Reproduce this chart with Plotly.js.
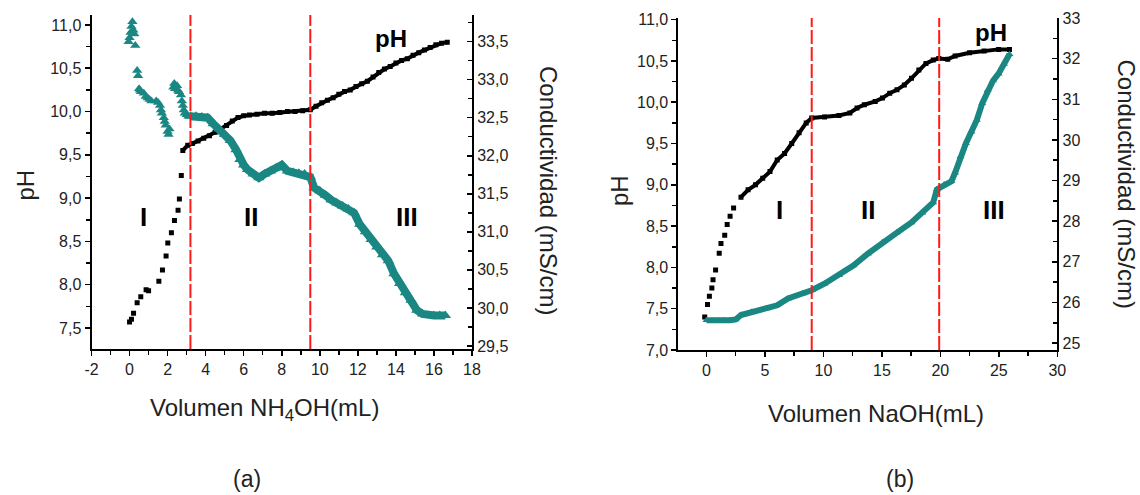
<!DOCTYPE html>
<html>
<head>
<meta charset="utf-8">
<script src="https://cdn.plot.ly/plotly-3.0.1.min.js"></script>
<style>
  html, body { margin: 0; padding: 0; background: #fff; }
  #chart { width: 1140px; height: 495px; }
</style>
</head>
<body>
<div id="chart"></div>
<script>
// ---------------- DATA ----------------
// Panel (a): titration with NH4OH
// pH, sparse region (zone I)
const phA_x1 = [0, 0.1, 0.21, 0.4, 0.59, 0.87, 1.0, 1.54, 1.73, 1.92, 2.01, 2.2, 2.36, 2.55, 2.62, 2.72];
const phA_y1 = [7.57, 7.6, 7.67, 7.79, 7.86, 7.94, 7.93, 8.04, 8.17, 8.33, 8.48, 8.6, 8.74, 8.86, 8.99, 9.26];
// pH, dense region
const phA_x2 = [2.8, 3.06, 3.3, 3.6, 3.9, 4.2, 4.5, 4.8, 5.1, 5.4, 5.7, 6.0, 6.3, 6.7, 7.1, 7.5, 7.9, 8.3, 8.7, 9.1, 9.5, 9.8, 10.1, 10.4, 10.7, 11.0, 11.3, 11.6, 11.9, 12.2, 12.5, 12.8, 13.1, 13.4, 13.7, 14.0, 14.3, 14.6, 14.9, 15.2, 15.5, 15.8, 16.1, 16.4, 16.7];
const phA_y2 = [9.55, 9.61, 9.63, 9.66, 9.69, 9.72, 9.76, 9.8, 9.84, 9.89, 9.93, 9.95, 9.96, 9.97, 9.98, 9.98, 9.99, 10.0, 10.0, 10.01, 10.02, 10.06, 10.1, 10.13, 10.16, 10.2, 10.23, 10.25, 10.29, 10.32, 10.35, 10.4, 10.45, 10.49, 10.52, 10.56, 10.59, 10.61, 10.65, 10.68, 10.71, 10.74, 10.77, 10.79, 10.8];
// Conductivity, scattered start
const condA_x1 = [-0.05, 0.0, 0.05, 0.1, 0.15, 0.2, 0.25, 0.3, 0.4, 0.45, 0.5, 0.55, 0.6, 0.75, 0.85, 0.95, 1.05, 1.15, 1.4, 1.5, 1.6, 1.65, 1.7, 1.8, 1.85, 1.9, 2.0, 2.05, 2.1, 2.3, 2.35, 2.4, 2.5, 2.55, 2.6, 2.7, 2.75, 2.8, 2.85, 2.9, 3.0, 3.1];
const condA_y1 = [33.5, 33.55, 33.62, 33.7, 33.76, 33.65, 33.6, 33.45, 33.12, 33.05, 32.88, 32.86, 32.84, 32.82, 32.78, 32.76, 32.74, 32.72, 32.72, 32.7, 32.66, 32.6, 32.56, 32.5, 32.45, 32.4, 32.32, 32.28, 32.35, 32.9, 32.95, 32.88, 32.92, 32.86, 32.84, 32.8, 32.72, 32.66, 32.6, 32.56, 32.54, 32.52];
// Conductivity, dense region
const condA_x2 = [3.2, 3.5, 3.8, 4.1, 4.4, 4.7, 5.0, 5.3, 5.6, 5.8, 6.0, 6.2, 6.5, 6.8, 7.1, 7.4, 7.7, 8.0, 8.3, 8.6, 8.9, 9.2, 9.5, 9.7, 10.0, 10.3, 10.6, 10.9, 11.2, 11.5, 11.8, 12.1, 12.4, 12.7, 13.0, 13.3, 13.6, 13.9, 14.2, 14.5, 14.8, 15.1, 15.4, 15.7, 16.0, 16.3, 16.6];
const condA_y2 = [32.52, 32.52, 32.51, 32.5, 32.42, 32.35, 32.28, 32.2, 32.08, 31.95, 31.88, 31.82, 31.76, 31.71, 31.76, 31.8, 31.84, 31.88, 31.8, 31.78, 31.77, 31.76, 31.72, 31.58, 31.54, 31.48, 31.42, 31.38, 31.34, 31.3, 31.25, 31.1, 31.0, 30.9, 30.8, 30.7, 30.62, 30.45, 30.32, 30.2, 30.1, 29.97, 29.92, 29.9, 29.9, 29.9, 29.9];
const zonesA = [3.2, 9.5];
const xTickValsA = [-2, 0, 2, 4, 6, 8, 10, 12, 14, 16, 18];
const xTickTextA = ['-2', '0', '2', '4', '6', '8', '10', '12', '14', '16', '18'];

// Panel (b): titration with NaOH
const phB_x1 = [-0.15, 0.09, 0.25, 0.46, 0.56, 0.78, 1.09, 1.24, 1.56, 1.77, 2.02, 2.32];
const phB_y1 = [7.4, 7.55, 7.65, 7.75, 7.85, 7.97, 8.17, 8.29, 8.39, 8.52, 8.62, 8.72];
const phB_x2 = [2.95, 3.56, 4.19, 4.81, 5.43, 6.05, 6.68, 7.29, 7.92, 8.53, 9.0, 10.09, 11.33, 12.26, 12.88, 13.5, 14.43, 15.05, 15.67, 16.29, 16.92, 17.53, 18.16, 18.77, 19.39, 19.86, 20.63, 21.26, 22.5, 23.74, 24.98, 25.91];
const phB_y2 = [8.85, 8.94, 9.0, 9.08, 9.16, 9.3, 9.38, 9.5, 9.63, 9.75, 9.81, 9.82, 9.84, 9.87, 9.93, 9.97, 10.01, 10.05, 10.11, 10.15, 10.21, 10.29, 10.39, 10.47, 10.51, 10.53, 10.52, 10.56, 10.6, 10.62, 10.64, 10.64];
const condB_x = [0, 0.5, 1.0, 1.5, 2.0, 2.5, 2.95, 3.88, 5.12, 6.05, 6.98, 8.22, 9.0, 10.09, 11.33, 12.56, 13.8, 15.05, 16.29, 17.53, 18.46, 19.39, 19.7, 20.33, 20.94, 21.26, 21.72, 22.19, 22.65, 23.12, 23.58, 24.04, 24.51, 24.98, 25.45, 25.91];
const condB_y = [25.56, 25.55, 25.55, 25.56, 25.56, 25.58, 25.69, 25.77, 25.85, 25.93, 26.1, 26.22, 26.3, 26.46, 26.67, 26.91, 27.2, 27.48, 27.72, 27.97, 28.21, 28.46, 28.78, 28.9, 28.98, 29.19, 29.59, 29.92, 30.2, 30.49, 30.9, 31.22, 31.46, 31.63, 31.87, 32.11];
const zonesB = [9.0, 19.9];

// Text
const zoneLabels = ['I', 'II', 'III'];
const xTitleA = 'Volumen NH<sub>4</sub>OH(mL)';
const xTitleB = 'Volumen NaOH(mL)';
const yTitleLeft = 'pH';
const yTitleRight = 'Conductividad (mS/cm)';
const curveLabel = 'pH';
const panelLabels = ['(a)', '(b)'];

// ---------------- STYLE ----------------
const W = 1140, H = 495;
const FONT = 'Arial, "Liberation Sans", Helvetica, sans-serif';
const TEAL = '#1a8782';
const px = v => v / W;
const py = v => 1 - v / H;

function axis(extra) {
  return Object.assign({
    showline: true, linecolor: '#000', linewidth: 2,
    ticks: 'outside', ticklen: 5, tickwidth: 1.5, tickcolor: '#000',
    showgrid: false, zeroline: false, fixedrange: true,
    tickfont: { family: FONT, size: 16, color: '#222' }
  }, extra);
}
function minor(dt, side) {
  return { dtick: dt, ticks: side || 'outside', ticklen: 4, tickwidth: 1.5, tickcolor: '#000', showgrid: false };
}

const traces = [
  { x: condA_x1, y: condA_y1, xaxis: 'x', yaxis: 'y2', mode: 'markers', type: 'scatter',
    marker: { symbol: 'triangle-up', size: 9, color: TEAL } },
  { x: condA_x2, y: condA_y2, xaxis: 'x', yaxis: 'y2', mode: 'lines+markers', type: 'scatter',
    line: { color: TEAL, width: 8 }, marker: { symbol: 'triangle-up', size: 10, color: TEAL } },
  { x: phA_x1, y: phA_y1, xaxis: 'x', yaxis: 'y', mode: 'markers', type: 'scatter',
    marker: { symbol: 'square', size: 5, color: '#000' } },
  { x: phA_x2, y: phA_y2, xaxis: 'x', yaxis: 'y', mode: 'lines+markers', type: 'scatter',
    line: { color: '#000', width: 4 }, marker: { symbol: 'square', size: 5, color: '#000' } },
  { x: condB_x, y: condB_y, xaxis: 'x2', yaxis: 'y4', mode: 'lines+markers', type: 'scatter',
    line: { color: TEAL, width: 6 }, marker: { symbol: 'triangle-up', size: 7, color: TEAL } },
  { x: phB_x1, y: phB_y1, xaxis: 'x2', yaxis: 'y3', mode: 'markers', type: 'scatter',
    marker: { symbol: 'square', size: 5, color: '#000' } },
  { x: phB_x2, y: phB_y2, xaxis: 'x2', yaxis: 'y3', mode: 'lines+markers', type: 'scatter',
    line: { color: '#000', width: 4 }, marker: { symbol: 'square', size: 5, color: '#000' } }
];

const shapes = [];
zonesA.forEach(v => shapes.push({ type: 'line', xref: 'x', yref: 'y domain', x0: v, x1: v, y0: 0, y1: 1,
  line: { color: '#ff1a1a', width: 2, dash: '14px,3px' } }));
zonesB.forEach(v => shapes.push({ type: 'line', xref: 'x2', yref: 'y3 domain', x0: v, x1: v, y0: 0, y1: 1,
  line: { color: '#ff1a1a', width: 2, dash: '14px,3px' } }));

function ann(text, x, y, size, opts) {
  return Object.assign({ text: text, xref: 'paper', yref: 'paper', x: px(x), y: py(y),
    xanchor: 'center', yanchor: 'middle', showarrow: false,
    font: { family: FONT, size: size, color: '#222' } }, opts || {});
}
const bold = (t) => '<b>' + t + '</b>';
const blk = (s) => ({ font: { family: FONT, size: s, color: '#000' } });

const annotations = [
  // panel a
  ann(bold(curveLabel), 391, 38, 24, blk(24)),
  ann(bold(zoneLabels[0]), 143.6, 217, 26, blk(26)),
  ann(bold(zoneLabels[1]), 251, 217, 26, blk(26)),
  ann(bold(zoneLabels[2]), 406.5, 217, 26, blk(26)),
  ann(xTitleA, 264.5, 409, 24),
  ann(yTitleLeft, 25.5, 185, 24, { textangle: -90 }),
  ann(yTitleRight, 549, 190, 24, { textangle: 90 }),
  ann(panelLabels[0], 247, 479, 23),
  // panel b
  ann(bold(curveLabel), 991, 33, 24, blk(24)),
  ann(bold(zoneLabels[0]), 779, 210, 26, blk(26)),
  ann(bold(zoneLabels[1]), 868, 210, 26, blk(26)),
  ann(bold(zoneLabels[2]), 993.6, 210, 26, blk(26)),
  ann(xTitleB, 875.5, 413, 24),
  ann(yTitleLeft, 619, 191, 24, { textangle: -90 }),
  ann(yTitleRight, 1126, 183.5, 24, { textangle: 90 }),
  ann(panelLabels[1], 900, 479, 23)
];

const layout = {
  width: W, height: H, autosize: false,
  margin: { l: 0, r: 0, t: 0, b: 0, pad: 0 },
  paper_bgcolor: '#fff', plot_bgcolor: 'rgba(0,0,0,0)',
  showlegend: false,
  separators: ',.',
  xaxis: axis({ domain: [px(91.5), px(472)], anchor: 'y', range: [-2, 18],
    tickmode: 'array', tickvals: xTickValsA, ticktext: xTickTextA,
    minor: minor(1) }),
  yaxis: axis({ domain: [py(349), py(15)], anchor: 'x', range: [7.257, 11.115], tick0: 0, dtick: 0.5,
    tickformat: '.1f', minor: minor(0.25) }),
  yaxis2: axis({ overlaying: 'y', anchor: 'x', side: 'right', range: [29.46, 33.85], tick0: 0, dtick: 0.5,
    tickformat: '.1f', ticks: 'inside', minor: minor(0.25, 'inside') }),
  xaxis2: axis({ domain: [px(678.4), px(1057.3)], anchor: 'y3', range: [-2.4, 30], tick0: 0, dtick: 5,
    minor: minor(2.5) }),
  yaxis3: axis({ domain: [py(350), py(18)], anchor: 'x2', range: [7.0, 11.02], tick0: 0, dtick: 0.5,
    tickformat: '.1f', minor: minor(0.25) }),
  yaxis4: axis({ overlaying: 'y3', anchor: 'x2', side: 'right', range: [24.83, 33.0], tick0: 0, dtick: 1,
    tickformat: 'd', ticks: 'inside', minor: minor(0.5, 'inside') }),
  shapes: shapes,
  annotations: annotations
};

Plotly.newPlot('chart', traces, layout, { staticPlot: true, displayModeBar: false });
</script>
</body>
</html>
